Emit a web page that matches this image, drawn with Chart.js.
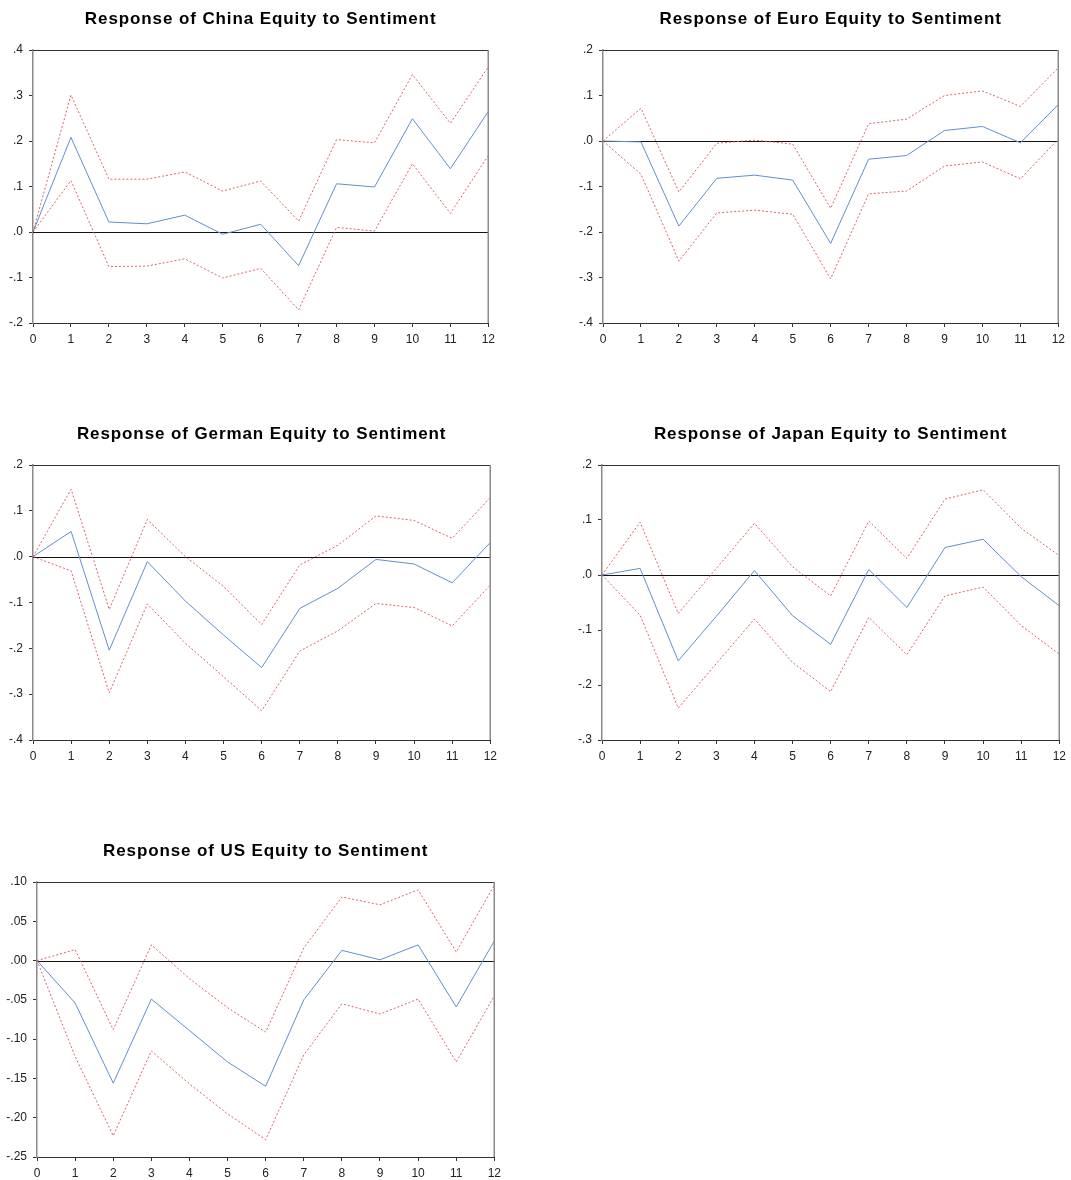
<!DOCTYPE html>
<html>
<head>
<meta charset="utf-8">
<script src="https://cdn.jsdelivr.net/npm/chart.js@4.4.0/dist/chart.umd.min.js"></script>
<style>
  html, body { margin: 0; padding: 0; background: #fff; }
  body { width: 1071px; height: 1180px; position: relative; overflow: hidden; }
  canvas { position: absolute; }
</style>
</head>
<body>
<canvas id="china"></canvas>
<canvas id="euro"></canvas>
<canvas id="german"></canvas>
<canvas id="japan"></canvas>
<canvas id="us"></canvas>
<script>
// Impulse-response horizons (periods after the sentiment shock)
const horizon = [0, 1, 2, 3, 4, 5, 6, 7, 8, 9, 10, 11, 12];

// China equity response with +/- 2 S.E. bands
const chinaResp  = [0, 0.208, 0.022, 0.018, 0.037, -0.005, 0.017, -0.074, 0.106, 0.099, 0.249, 0.139, 0.265];
const chinaUpper = [0, 0.301, 0.116, 0.116, 0.132, 0.090, 0.112, 0.024, 0.203, 0.196, 0.346, 0.239, 0.363];
const chinaLower = [0, 0.113, -0.076, -0.075, -0.059, -0.101, -0.080, -0.171, 0.010, 0.002, 0.150, 0.041, 0.168];
const chinaTicks = ['.4', '.3', '.2', '.1', '.0', '-.1', '-.2'];

// Euro equity response
const euroResp  = [0, -0.002, -0.187, -0.082, -0.075, -0.086, -0.225, -0.040, -0.032, 0.023, 0.032, -0.004, 0.080];
const euroUpper = [0, 0.072, -0.112, -0.005, 0.002, -0.007, -0.148, 0.038, 0.048, 0.100, 0.110, 0.076, 0.161];
const euroLower = [0, -0.073, -0.264, -0.158, -0.152, -0.161, -0.303, -0.116, -0.110, -0.055, -0.046, -0.083, 0.004];
const euroTicks = ['.2', '.1', '.0', '-.1', '-.2', '-.3', '-.4'];

// German equity response
const germanResp  = [0, 0.055, -0.204, -0.011, -0.097, -0.171, -0.242, -0.113, -0.069, -0.006, -0.016, -0.057, 0.031];
const germanUpper = [0, 0.147, -0.115, 0.081, 0.000, -0.065, -0.148, -0.018, 0.025, 0.089, 0.079, 0.040, 0.129];
const germanLower = [0, -0.031, -0.297, -0.103, -0.189, -0.262, -0.336, -0.206, -0.162, -0.102, -0.111, -0.151, -0.062];
const germanTicks = ['.2', '.1', '.0', '-.1', '-.2', '-.3', '-.4'];

// Japan equity response
const japanResp  = [0, 0.012, -0.156, -0.075, 0.008, -0.074, -0.126, 0.010, -0.059, 0.050, 0.065, -0.003, -0.056];
const japanUpper = [0, 0.096, -0.070, 0.012, 0.094, 0.015, -0.038, 0.098, 0.030, 0.138, 0.155, 0.085, 0.035];
const japanLower = [0, -0.073, -0.242, -0.161, -0.080, -0.159, -0.212, -0.077, -0.145, -0.038, -0.022, -0.092, -0.144];
const japanTicks = ['.2', '.1', '.0', '-.1', '-.2', '-.3'];

// US equity response
const usResp  = [0, -0.054, -0.156, -0.049, -0.089, -0.129, -0.160, -0.050, 0.013, 0.001, 0.020, -0.059, 0.025];
const usUpper = [0, 0.014, -0.088, 0.020, -0.023, -0.060, -0.091, 0.016, 0.081, 0.071, 0.090, 0.011, 0.096];
const usLower = [0, -0.122, -0.223, -0.115, -0.157, -0.195, -0.228, -0.120, -0.055, -0.068, -0.049, -0.129, -0.045];
const usTicks = ['.10', '.05', '.00', '-.05', '-.10', '-.15', '-.20', '-.25'];

// Panel definitions: title, series, y range and where each plot box sits on the page
const panels = [
  { id: 'china',  title: 'Response of China Equity to Sentiment',  resp: chinaResp,  upper: chinaUpper,  lower: chinaLower,
    ticks: chinaTicks,  yMax: 0.4, yMin: -0.2, step: 0.1,  canvasLeft: 0,   plot: { left: 33,  top: 50,  right: 489,  bottom: 323 } },
  { id: 'euro',   title: 'Response of Euro Equity to Sentiment',   resp: euroResp,   upper: euroUpper,   lower: euroLower,
    ticks: euroTicks,   yMax: 0.2, yMin: -0.4, step: 0.1,  canvasLeft: 540, plot: { left: 603, top: 50,  right: 1059, bottom: 323 } },
  { id: 'german', title: 'Response of German Equity to Sentiment', resp: germanResp, upper: germanUpper, lower: germanLower,
    ticks: germanTicks, yMax: 0.2, yMin: -0.4, step: 0.1,  canvasLeft: 0,   plot: { left: 33,  top: 465, right: 491,  bottom: 740 } },
  { id: 'japan',  title: 'Response of Japan Equity to Sentiment',  resp: japanResp,  upper: japanUpper,  lower: japanLower,
    ticks: japanTicks,  yMax: 0.2, yMin: -0.3, step: 0.1,  canvasLeft: 540, plot: { left: 602, top: 465, right: 1060, bottom: 740 } },
  { id: 'us',     title: 'Response of US Equity to Sentiment',     resp: usResp,     upper: usUpper,     lower: usLower,
    ticks: usTicks,     yMax: 0.10, yMin: -0.25, step: 0.05, canvasLeft: 0, plot: { left: 37,  top: 882, right: 495,  bottom: 1157 } }
];

const TITLE_SPACE = 50;   // room above the plot box for the title
const X_AXIS_H = 23;      // height of the bottom axis band
const RIGHT_PAD = 11;

const TICK_FONT = { family: '"Liberation Sans", Arial, sans-serif', size: 12 };
const TICK_COLOR = '#222';
const RESP_COLOR = '#5f8fd2';
const BAND_COLOR = 'rgba(216, 72, 72, 0.85)';

// Zero line, plot frame and panel title
const framePlugin = {
  id: 'frame',
  beforeDatasetsDraw(chart) {
    const { ctx, chartArea: a, scales: { y } } = chart;
    const y0 = Math.round(y.getPixelForValue(0)) + 0.5;
    ctx.save();
    ctx.strokeStyle = '#111';
    ctx.lineWidth = 1;
    ctx.beginPath();
    ctx.moveTo(a.left, y0);
    ctx.lineTo(a.right, y0);
    ctx.stroke();
    ctx.restore();
  },
  afterDraw(chart) {
    const { ctx, chartArea: a } = chart;
    ctx.save();
    ctx.lineWidth = 1;
    ctx.strokeStyle = '#333';
    ctx.beginPath();
    ctx.moveTo(a.left, Math.round(a.top) + 0.5);
    ctx.lineTo(a.right, Math.round(a.top) + 0.5);
    ctx.stroke();
    ctx.strokeStyle = '#8a8a8a';
    ctx.lineWidth = 1.5;
    ctx.beginPath();
    ctx.moveTo(Math.round(a.right) + 0.25, a.top);
    ctx.lineTo(Math.round(a.right) + 0.25, a.bottom);
    ctx.stroke();

    ctx.fillStyle = '#000';
    ctx.font = 'bold 17px "Liberation Sans", Arial, sans-serif';
    ctx.letterSpacing = '0.9px';
    ctx.textAlign = 'center';
    ctx.textBaseline = 'alphabetic';
    ctx.fillText(chart.options.plugins.panelTitle.text, (a.left + a.right) / 2, a.top - 26);
    ctx.restore();
  }
};

panels.forEach(p => {
  const canvas = document.getElementById(p.id);
  const top = p.plot.top - TITLE_SPACE;
  const width = p.plot.right - p.canvasLeft + RIGHT_PAD;
  const height = p.plot.bottom + X_AXIS_H - top;
  canvas.width = width;
  canvas.height = height;
  canvas.style.left = p.canvasLeft + 'px';
  canvas.style.top = top + 'px';
  canvas.style.width = width + 'px';
  canvas.style.height = height + 'px';

  const pts = arr => arr.map((v, i) => ({ x: horizon[i], y: v }));
  const yAxisWidth = p.plot.left - p.canvasLeft;

  new Chart(canvas, {
    type: 'line',
    data: {
      datasets: [
        { data: pts(p.upper), borderColor: BAND_COLOR, borderWidth: 1, borderDash: [2, 2], pointRadius: 0, tension: 0 },
        { data: pts(p.lower), borderColor: BAND_COLOR, borderWidth: 1, borderDash: [2, 2], pointRadius: 0, tension: 0 },
        { data: pts(p.resp),  borderColor: RESP_COLOR, borderWidth: 1, pointRadius: 0, tension: 0 }
      ]
    },
    options: {
      responsive: false,
      animation: false,
      devicePixelRatio: 1,
      layout: { padding: { top: TITLE_SPACE, right: RIGHT_PAD, left: 0, bottom: 0 } },
      plugins: {
        legend: { display: false },
        tooltip: { enabled: false },
        panelTitle: { text: p.title }
      },
      scales: {
        x: {
          type: 'linear', min: 0, max: 12,
          ticks: { stepSize: 1, autoSkip: false, maxRotation: 0, padding: 5, color: TICK_COLOR, font: TICK_FONT,
                   callback: v => String(v) },
          grid: { drawOnChartArea: false, drawTicks: true, tickLength: 4, tickColor: '#333' },
          border: { display: true, color: '#333', width: 1 },
          afterFit: s => { s.height = X_AXIS_H; }
        },
        y: {
          type: 'linear', min: p.yMin, max: p.yMax,
          ticks: { stepSize: p.step, padding: 6, color: TICK_COLOR, font: TICK_FONT,
                   callback: v => p.ticks[Math.round((p.yMax - v) / p.step)] },
          grid: { drawOnChartArea: false, drawTicks: true, tickLength: 4, tickColor: '#333' },
          border: { display: true, color: '#8a8a8a', width: 1.5 },
          afterFit: s => { s.width = yAxisWidth; }
        }
      }
    },
    plugins: [framePlugin]
  });
});
</script>
</body>
</html>
